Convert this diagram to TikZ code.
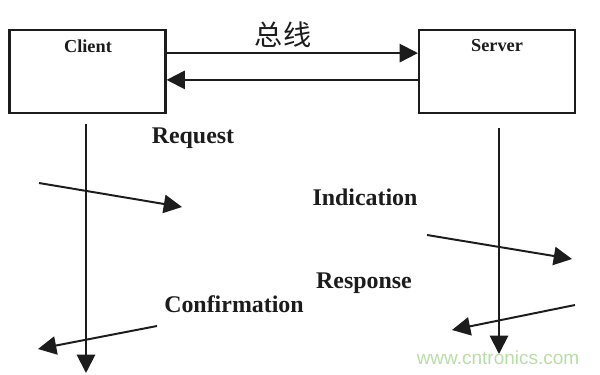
\documentclass[tikz,border=0pt]{standalone}
\usepackage{fontspec}
\setmainfont{Liberation Serif}
\newfontfamily\cjk{Noto Sans CJK SC}
\newfontfamily\wmfont{Liberation Sans}
\usepackage{xcolor}
\definecolor{ink}{HTML}{1C1C1C}
\definecolor{wmgreen}{HTML}{B7DDA8}
\usetikzlibrary{arrows.meta}

\begin{document}
\begin{tikzpicture}[x=0.025cm,y=-0.025cm,
  box/.style={draw=ink, line width=1.5pt, minimum width=3.9cm, minimum height=2.075cm, inner sep=0pt},
  boxtxt/.style={font=\bfseries\fontsize{13}{15}\selectfont, text=ink},
  link/.style={ink, line width=1.4pt, -{Triangle[length=13pt,width=13pt]}},
  msg/.style={font=\bfseries\fontsize{17}{20}\selectfont, text=ink}]
  \useasboundingbox (0,0) rectangle (600,375);
  % the two ends of the bus
  \node[box] (client) at (87.5,71.5) {};
  \node[box] (server) at (497,71.5) {};
  \node[boxtxt] (clienttxt) at (88,46) {Client};
  \node[boxtxt] (servertxt) at (497,46) {Server};
  \node[font=\cjk\fontsize{20}{22}\selectfont, text=ink] (bus) at (283,35) {总线};
  \draw[link] ([yshift=0.46cm]client.east) -- ([yshift=0.46cm]server.west);
  \draw[link] ([yshift=-0.21cm]server.west) -- ([yshift=-0.21cm]client.east);
  % time lines
  \coordinate (ctop) at (86,124);
  \coordinate (cbot) at (86,373);
  \coordinate (stop) at (499,128);
  \coordinate (sbot) at (499,354);
  \draw[link] (ctop) -- (cbot);
  \draw[link] (stop) -- (sbot);
  % primitives
  \coordinate (req1) at (39,183);   \coordinate (req2) at (182,207);
  \coordinate (ind1) at (427,235);  \coordinate (ind2) at (572,259);
  \coordinate (rsp1) at (575,305);  \coordinate (rsp2) at (452,330);
  \coordinate (cnf1) at (157,326);  \coordinate (cnf2) at (38,349);
  \foreach \a/\b in {req1/req2,ind1/ind2,rsp1/rsp2,cnf1/cnf2}
    \draw[link] (\a) -- (\b);
  \node[msg] (request) at (193,138) {Request};
  \node[msg] (indication) at (365,197) {Indication};
  \node[msg] (response) at (364,283) {Response};
  \node[msg] (confirm) at (234,304) {Confirmation};
  % site mark
  \node[font=\wmfont\fontsize{13.5}{15}\selectfont, text=wmgreen] (mark) at (498,358) {www.cntronics.com};
\end{tikzpicture}
\end{document}
